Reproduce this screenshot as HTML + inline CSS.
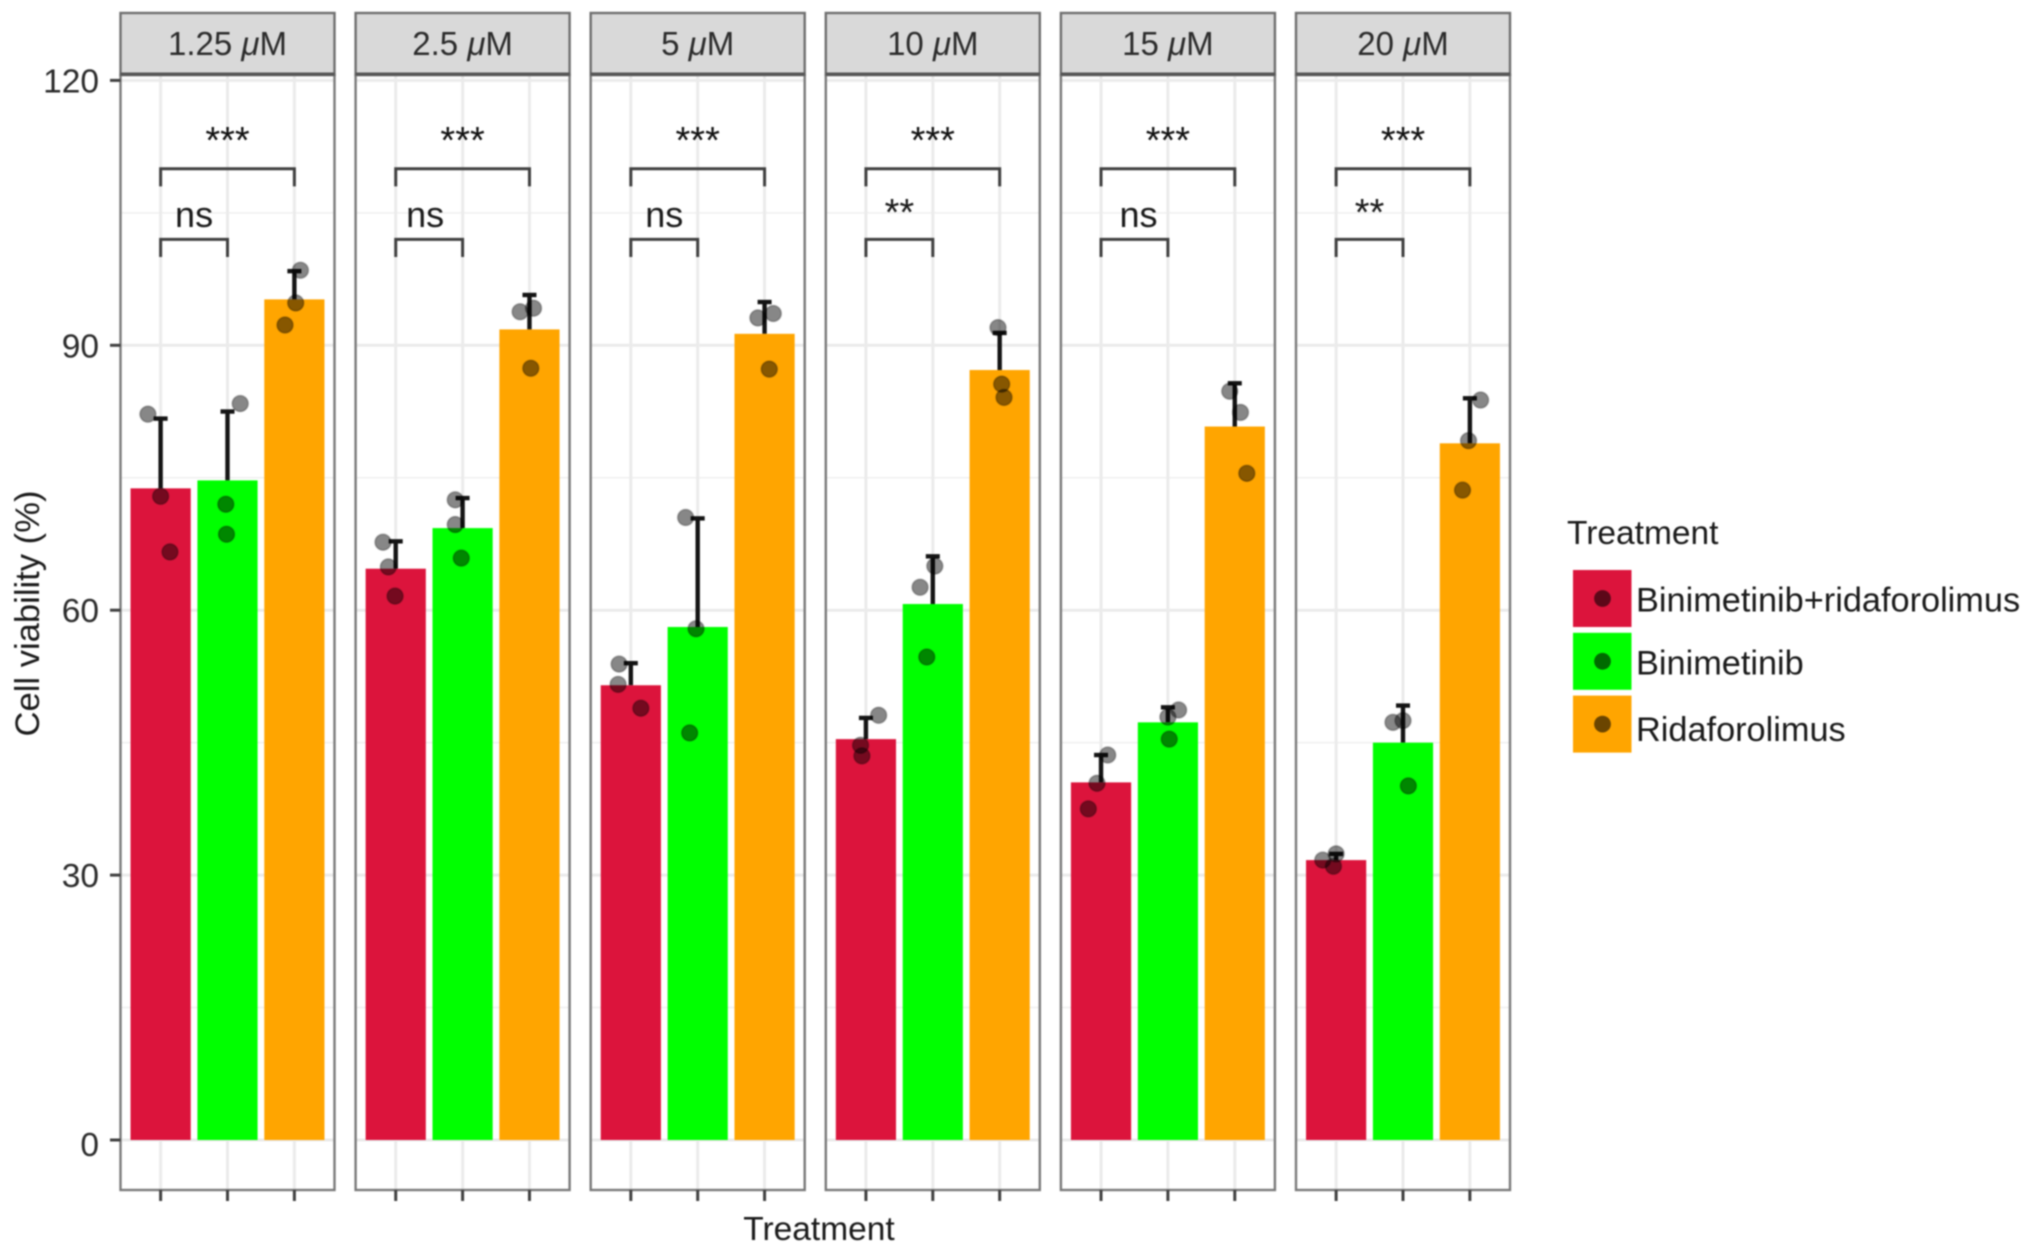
<!DOCTYPE html>
<html lang="en">
<head>
<meta charset="utf-8">
<title>Cell viability by treatment and concentration</title>
<style>
  html, body { margin: 0; padding: 0; background: #ffffff; }
  body { width: 2032px; height: 1253px; overflow: hidden; }
  #chart { display: block; filter: blur(0.8px); }
  text { font-family: "Liberation Sans", Arial, sans-serif; }
</style>
</head>
<body>
<svg id="chart" xmlns="http://www.w3.org/2000/svg" width="2032" height="1253" viewBox="0 0 2032 1253"></svg>
<script>
const concentrations = ['1.25', '2.5', '5', '10', '15', '20'];
const treatments = ['Binimetinib+ridaforolimus', 'Binimetinib', 'Ridaforolimus'];
const treatmentColors = ['#dc143c', '#00ff00', '#ffa500'];

const meanCombo = [73.8, 64.7, 51.5, 45.4, 40.5, 31.7];
const meanBini = [74.7, 69.3, 58.1, 60.7, 47.3, 45.0];
const meanRida = [95.2, 91.8, 91.3, 87.2, 80.8, 78.9];

const errorTopCombo = [81.7, 67.8, 54.0, 47.8, 43.6, 32.4];
const errorTopBini = [82.5, 72.7, 70.4, 66.1, 49.0, 49.2];
const errorTopRida = [98.4, 95.7, 94.9, 91.4, 85.7, 84.0];

const pointsCombo = [[82.2, 72.9, 66.6], [67.7, 64.9, 61.6], [53.9, 51.6, 48.9], [48.1, 44.7, 43.5], [43.6, 40.4, 37.5], [32.4, 31.7, 31.0]];
const pointsBini = [[83.4, 72.0, 68.6], [72.5, 69.7, 65.9], [70.5, 57.9, 46.1], [65.0, 62.6, 54.7], [48.7, 47.9, 45.4], [47.5, 47.3, 40.1]];
const pointsRida = [[98.5, 94.8, 92.3], [94.2, 93.8, 87.4], [93.6, 93.1, 87.3], [92.0, 85.6, 84.1], [84.8, 82.4, 75.5], [83.8, 79.2, 73.6]];

const jitterCombo = [[-0.19, 0, 0.14], [-0.19, -0.11, -0.01], [-0.175, -0.19, 0.15], [0.19, -0.08, -0.06], [0.1, -0.06, -0.19], [0, -0.2, -0.04]];
const jitterBini = [[0.19, -0.025, -0.015], [-0.11, -0.11, -0.02], [-0.18, -0.025, -0.12], [0.03, -0.19, -0.09], [0.16, 0, 0.02], [0, -0.15, 0.08]];
const jitterRida = [[0.09, 0.02, -0.14], [0.06, -0.14, 0.02], [0.13, -0.1, 0.07], [-0.025, 0.03, 0.065], [-0.075, 0.085, 0.18], [0.16, -0.02, -0.11]];

const yMajorTicks = [0, 30, 60, 90, 120];
const yMinorTicks = [15, 45, 75, 105];
const significanceNear = ['ns', 'ns', 'ns', '**', 'ns', '**'];
const significanceFar = ['***', '***', '***', '***', '***', '***'];
const bracketLevels = [102, 110];

const means = [meanCombo, meanBini, meanRida];
const errorTops = [errorTopCombo, errorTopBini, errorTopRida];
const pointSets = [pointsCombo, pointsBini, pointsRida];
const jitterSets = [jitterCombo, jitterBini, jitterRida];

const svg = document.getElementById('chart');
const NS = 'http://www.w3.org/2000/svg';
const PANEL_W = 214, PANEL_STEP = 235.1, PANEL_X0 = 120.5;
const PANEL_TOP = 75, PANEL_BOTTOM = 1190, STRIP_TOP = 13;
const unit = PANEL_W / 3.2;

function yScale(v) { return 1140 - 8.83 * v; }
function panelX(p) { return PANEL_X0 + PANEL_STEP * p; }
function catX(p, c) { return panelX(p) + (c + 1 - 0.4) * unit; }

function make(tag, attrs, parent) {
  const el = document.createElementNS(NS, tag);
  for (const k in attrs) el.setAttribute(k, attrs[k]);
  (parent || svg).appendChild(el);
  return el;
}

concentrations.forEach(function (conc, p) {
  const px = panelX(p);
  const group = make('g', {});
  
  

  yMinorTicks.forEach(function (v) {
    const el = make('line', { x1: px, x2: px + PANEL_W, y1: yScale(v), y2: yScale(v), stroke: '#efefef', 'stroke-width': 1.5 }, group);
    
    
  });
  yMajorTicks.forEach(function (v) {
    const el = make('line', { x1: px, x2: px + PANEL_W, y1: yScale(v), y2: yScale(v), stroke: '#ebebeb', 'stroke-width': 3 }, group);
    
    
  });
  treatments.forEach(function (t, c) {
    const el = make('line', { x1: catX(p, c), x2: catX(p, c), y1: PANEL_TOP, y2: PANEL_BOTTOM, stroke: '#ebebeb', 'stroke-width': 3 }, group);
    
    
  });

  treatments.forEach(function (t, c) {
    const cx = catX(p, c);
    const top = yScale(errorTops[c][p]);
    const stem = make('line', { x1: cx, x2: cx, y1: yScale(means[c][p]), y2: top, stroke: '#141414', 'stroke-width': 4.4 }, group);
    
    
    const cap = make('line', { x1: cx - 7, x2: cx + 7, y1: top, y2: top, stroke: '#141414', 'stroke-width': 4.4 }, group);
    
    
  });

  treatments.forEach(function (t, c) {
    const bw = 0.9 * unit;
    const yTop = yScale(means[c][p]);
    const bar = make('rect', { x: catX(p, c) - bw / 2, y: yTop, width: bw, height: yScale(0) - yTop, fill: treatmentColors[c] }, group);
    
    
  });

  treatments.forEach(function (t, c) {
    pointSets[c][p].forEach(function (v, i) {
      const dot = make('circle', { cx: catX(p, c) + jitterSets[c][p][i] * unit, cy: yScale(v), r: 8, fill: 'rgba(0,0,0,0.47)', stroke: 'rgba(0,0,0,0.25)', 'stroke-width': 1.6 }, group);
      
      
    });
  });

  const nearTop = yScale(bracketLevels[0]), nearTip = yScale(bracketLevels[0] - 2);
  const farTop = yScale(bracketLevels[1]), farTip = yScale(bracketLevels[1] - 2);
  const near = make('path', { d: 'M' + catX(p, 0) + ' ' + nearTip + 'V' + nearTop + 'H' + catX(p, 1) + 'V' + nearTip, fill: 'none', stroke: '#404040', 'stroke-width': 3 }, group);
  
  
  const far = make('path', { d: 'M' + catX(p, 0) + ' ' + farTip + 'V' + farTop + 'H' + catX(p, 2) + 'V' + farTip, fill: 'none', stroke: '#404040', 'stroke-width': 3 }, group);
  
  

  const farLabel = make('text', { x: catX(p, 1), y: 153, 'text-anchor': 'middle', 'font-size': 38, fill: '#111' }, group);
  farLabel.textContent = significanceFar[p];
  
  

  const isStars = significanceNear[p] !== 'ns';
  const nudge = p === 1 ? -4 : (p === 4 ? 4 : 0);
  const nearLabel = make('text', { x: (catX(p, 0) + catX(p, 1)) / 2 + nudge, y: isStars ? 225 : 227, 'text-anchor': 'middle', 'font-size': isStars ? 38 : 36, fill: '#1a1a1a' }, group);
  nearLabel.textContent = significanceNear[p];
  
  

  const border = make('rect', { x: px, y: PANEL_TOP, width: PANEL_W, height: PANEL_BOTTOM - PANEL_TOP, fill: 'none', stroke: '#7a7a7a', 'stroke-width': 2.4 }, group);
  
  

  const strip = make('rect', { x: px, y: STRIP_TOP, width: PANEL_W, height: PANEL_TOP - STRIP_TOP, fill: '#d9d9d9', stroke: '#6f6f6f', 'stroke-width': 2.4 }, group);
  
  

  const stripLine = make('line', { x1: px, x2: px + PANEL_W, y1: PANEL_TOP - 1, y2: PANEL_TOP - 1, stroke: '#555', 'stroke-width': 3 }, group);
  
  

  const label = make('text', { x: px + PANEL_W / 2, y: 55, 'text-anchor': 'middle', 'font-size': 33, fill: '#2b2b2b' }, group);
  
  
  label.appendChild(document.createTextNode(conc + ' '));
  const mu = make('tspan', { 'font-style': 'italic' }, label);
  mu.textContent = '\u03BC';
  label.appendChild(document.createTextNode('M'));

  treatments.forEach(function (t, c) {
    const tick = make('line', { x1: catX(p, c), x2: catX(p, c), y1: PANEL_BOTTOM, y2: PANEL_BOTTOM + 11, stroke: '#404040', 'stroke-width': 3 }, group);
    
    
  });
});

yMajorTicks.forEach(function (v) {
  const tick = make('line', { x1: 110, x2: 120.5, y1: yScale(v), y2: yScale(v), stroke: '#404040', 'stroke-width': 3 });
  
  
  const label = make('text', { x: 99, y: yScale(v) + (v === 0 ? 16 : 12), 'text-anchor': 'end', 'font-size': 33.5, fill: '#2b2b2b' });
  label.textContent = String(v);
  
  
});

const yTitle = make('text', { x: 0, y: 0, transform: 'translate(39 613.5) rotate(-90)', 'text-anchor': 'middle', 'font-size': 34.6, fill: '#1a1a1a' });
yTitle.textContent = 'Cell viability (%)';



const xTitle = make('text', { x: 819, y: 1240, 'text-anchor': 'middle', 'font-size': 33.5, fill: '#1a1a1a' });
xTitle.textContent = 'Treatment';



const legendTitle = make('text', { x: 1567, y: 544, 'font-size': 33.5, fill: '#1a1a1a' });
legendTitle.textContent = 'Treatment';



const legendGap = 62.8;
treatments.forEach(function (t, i) {
  const keyTop = 570 + legendGap * i;
  const entry = make('g', {});
  
  
  const key = make('rect', { x: 1573, y: keyTop, width: 58.5, height: 57, fill: treatmentColors[i] }, entry);
  
  
  const dot = make('circle', { cx: 1602.5, cy: keyTop + 28.5, r: 8.4, fill: 'rgba(0,0,0,0.58)' }, entry);
  
  
  const label = make('text', { x: 1636, y: keyTop + (i === 2 ? 45.5 : 41.5), 'font-size': 34.3, fill: '#1a1a1a' }, entry);
  label.textContent = t;
  
  
});
</script>
</body>
</html>
